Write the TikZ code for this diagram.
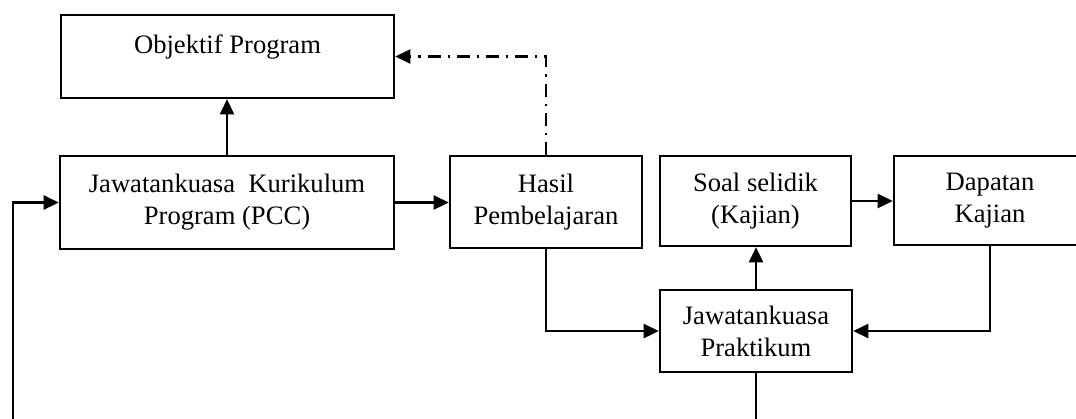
\documentclass[tikz,border=0pt]{standalone}
\usepackage{fontspec}
\setmainfont{Liberation Serif}
\usetikzlibrary{arrows.meta}
\begin{document}
\begin{tikzpicture}[x=1pt,y=-1pt,
  line width=2.6pt,
  box/.style={draw, line width=2.6pt, inner sep=0pt, align=center,
    font=\fontsize{26.6}{32}\selectfont},
  conn/.style={line width=2.6pt, -{Triangle[length=15pt,width=14pt]}},
  dashdot/.style={conn, dash pattern=on 13pt off 6.5pt on 2.6pt off 7pt}]
\useasboundingbox (0,0) rectangle (1076,418);
\clip (0,0) rectangle (1076,418);
\node[box, minimum width=333pt, minimum height=83pt] (obj) at (227.5,56.5)
  {\raisebox{9.5pt}[\height][\depth]{Objektif Program}};
\node[box, minimum width=334pt, minimum height=93pt] (pcc) at (227,202.5)
  {Jawatankuasa\ \ Kurikulum\\Program (PCC)};
\node[box, minimum width=192pt, minimum height=92pt] (hasil) at (546,202)
  {Hasil\\Pembelajaran};
\node[box, minimum width=191pt, minimum height=90pt] (soal) at (755.5,201)
  {Soal selidik\\(Kajian)};
\node[box, minimum width=192pt, minimum height=89pt] (dap) at (990,200.5)
  {Dapatan\\Kajian};
\node[box, minimum width=192pt, minimum height=82pt] (prak) at (756,331)
  {Jawatankuasa\\Praktikum};
\coordinate (fbL) at (13,430);
\coordinate (fbR) at (756,430);
\draw[conn] (pcc.north) -- (pcc.north |- obj.south);
\draw[conn] (pcc.east) -- (pcc.east -| hasil.west);
\draw[dashdot] (hasil.north) |- (obj.east);
\draw[conn] (hasil.south) |- (prak.west);
\draw[conn] (prak.north) -- (prak.north |- soal.south);
\draw[conn] (soal.east) -- (soal.east -| dap.west);
\draw[conn] (dap.south) |- (prak.east);
\draw (prak.south) -- (fbR);
\draw[conn] (fbL) |- (pcc.west);
\end{tikzpicture}
\end{document}
